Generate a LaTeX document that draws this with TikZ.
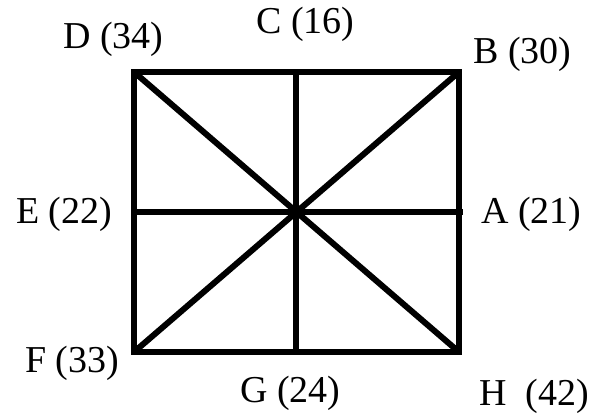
\documentclass[tikz,border=0pt]{standalone}
\usepackage{fontspec}
\setmainfont{Liberation Serif}
\begin{document}
\begin{tikzpicture}[x=1pt,y=-1pt,
  edge/.style={line width=6pt,line join=miter,black},
  lab/.style={anchor=base west,inner sep=0pt,font=\fontsize{38}{42}\selectfont}]
\useasboundingbox (0,0) rectangle (594,413);
\coordinate (D) at (134,72);
\coordinate (B) at (459,72);
\coordinate (F) at (134,352);
\coordinate (H) at (459,352);
\coordinate (C) at (296,72);
\coordinate (G) at (296,352);
\coordinate (E) at (134,212);
\coordinate (A) at (463,212);
\coordinate (O) at (296,212);
\draw[edge] (D) -- (B) -- (H) -- (F) -- cycle;
\draw[edge] (C) -- (G);
\draw[edge] (E) -- (A);
\draw[edge] (D) -- (H);
\draw[edge] (F) -- (B);
\node[lab] (tD) at (63,48) {D (34)};
\node[lab] (tC) at (256,33) {C (16)};
\node[lab] (tB) at (473,63) {B (30)};
\node[lab] (tE) at (16,223) {E (22)};
\node[lab] (tA) at (481,223) {A (21)};
\node[lab] (tF) at (25,372) {F (33)};
\node[lab] (tG) at (240,402) {G (24)};
\node[lab] (tH) at (479,405) {H\ \ (42)};
\end{tikzpicture}
\end{document}
